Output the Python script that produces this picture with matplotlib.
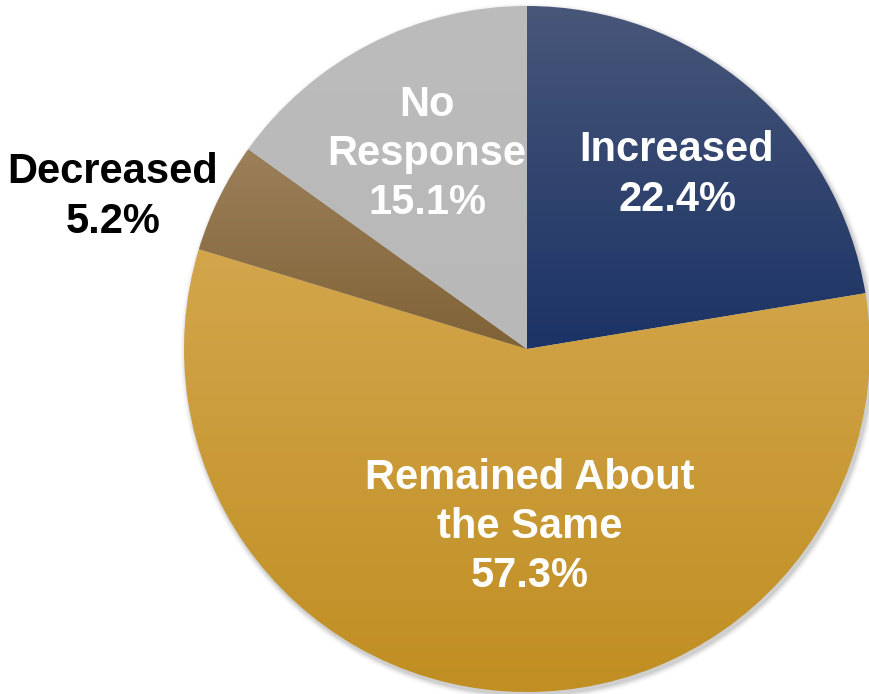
import numpy as np
import matplotlib.pyplot as plt
from matplotlib.colors import LinearSegmentedColormap

plt.rcParams['font.family'] = ['Liberation Sans', 'DejaVu Sans']

labels = ['Increased', 'Remained About\nthe Same', 'Decreased', 'No\nResponse']
values = [22.4, 57.3, 5.2, 15.1]
top_colors = ['#485679', '#d3a64c', '#9c805a', '#bcbcbc']
bottom_colors = ['#1b3365', '#c08e22', '#7f6236', '#b8b8b8']
text_colors = ['white', 'white', 'black', 'white']
# label anchor points in pixel space (x, y from top)
label_pos = [(677, 175), (530, 527), (113, 197), (427, 154)]

W, H = 869, 694
fig = plt.figure(figsize=(W / 100, H / 100), dpi=100)
ax = fig.add_axes([0, 0, 1, 1])

cx, cy, r = 527, 349, 343

# soft shadow under the pie
for i, a in enumerate(np.linspace(0.05, 0.01, 6)):
    sh = plt.Circle((cx + 2, cy + 3), r + 1 + i, color='black', alpha=a, lw=0, zorder=0)
    ax.add_patch(sh)

# y axis is flipped below: start at -90 (screen top) and go counterclock in
# data space, which reads clockwise on screen
wedges, _ = ax.pie(values, startangle=-90, counterclock=True, center=(cx, cy),
                   radius=r, wedgeprops=dict(linewidth=0))

ax.set_xlim(0, W)
ax.set_ylim(H, 0)
ax.set_aspect('equal')
ax.axis('off')

# vertical gradient fill for each wedge
grad = np.linspace(0, 1, 256).reshape(-1, 1)
for w, c0, c1 in zip(wedges, top_colors, bottom_colors):
    w.set_facecolor('none')
    cmap = LinearSegmentedColormap.from_list('g', [c0, c1])
    ext = w.get_path().get_extents()
    im = ax.imshow(grad, cmap=cmap, aspect='auto', zorder=1,
                   extent=[ext.x0, ext.x1, ext.y1, ext.y0])
    im.set_clip_path(w)

for lab, val, (x, y), tc in zip(labels, values, label_pos, text_colors):
    ax.text(x, y, f'{lab}\n{val}%', ha='center', va='center', color=tc,
            fontsize=30, fontweight='bold', linespacing=1.3, zorder=3)

ax.set_xlim(0, W)
ax.set_ylim(H, 0)
fig.savefig('out.png', dpi=100)
